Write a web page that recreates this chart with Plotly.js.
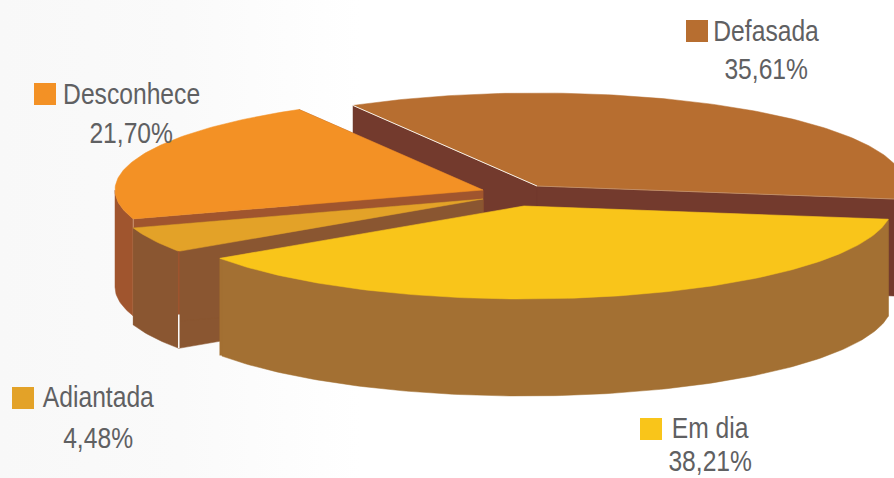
<!DOCTYPE html>
<html><head><meta charset="utf-8">
<script src="https://cdn.plot.ly/plotly-3.0.1.min.js"></script>
<style>html,body{margin:0;padding:0;background:#fff}#c{width:894px;height:478px;background:linear-gradient(90deg,#F8F8F8 0,#FAFAFA 180px,#FFFFFF 360px)}</style>
</head><body><div id="c"></div>
<script>
const categories = ["Em dia","Adiantada","Desconhece","Defasada"];
const shares = [38.21,4.48,21.70,35.61];
const shareLabels = ["38,21%","4,48%","21,70%","35,61%"];

const topColors = ["#F9C51A","#E3A228","#F39125","#B76E30"];
const wallColors = ["#A37033","#8A5631","#A0552E","#733A2D"];
const apexX = [524,483,483,537];
const apexY = [206,199,190,186];
const startAngle = 8.2, rx = 368, ry = 93, depth = 97;
const drawOrder = [3,2,1,0];

const swatchX = [640,12,34,686], swatchY = [418,387,83,20], swatchSize = 22;
const labelX = [710,98,131,766];
const nameY = [428,397,94,31];
const shareY = [461,438,133,69];
const textSqueeze = 0.85;

const total = shares.reduce((a,b)=>a+b,0);
let acc = startAngle;
const from = [], to = [];
shares.forEach(v=>{from.push(acc); acc += v/total*360; to.push(acc);});
const rad = d=>d*Math.PI/180;
const px = (i,a)=>apexX[i]+rx*Math.cos(rad(a));
const py = (i,a)=>apexY[i]+ry*Math.sin(rad(a));
const poly = (xs,ys,color)=>({type:'scatter',mode:'lines',x:[...xs,xs[0]],y:[...ys,ys[0]],fill:'toself',fillcolor:color,
  line:{color:color,width:0.5},hoverinfo:'skip',showlegend:false});
const edge = (xs,ys,color,w)=>({type:'scatter',mode:'lines',x:xs,y:ys,line:{color:color,width:w},hoverinfo:'skip',showlegend:false});

const traces = [];
drawOrder.forEach(i=>{
  const a0=from[i], a1=to[i];
  [a0,a1].forEach(a=>{
    traces.push(poly([apexX[i],px(i,a),px(i,a),apexX[i]],[apexY[i],py(i,a),py(i,a)+depth,apexY[i]+depth],wallColors[i]));
  });
  const ax=[],ay=[],bx=[],by=[];
  for(let a=a0;a<=a1;a+=1){
    const n=a%360;
    if(n<=180){ax.push(px(i,a));ay.push(py(i,a));bx.push(px(i,a));by.push(py(i,a)+depth);}
  }
  if(ax.length>1) traces.push(poly([...ax,...bx.reverse()],[...ay,...by.reverse()],wallColors[i]));
  const tx=[apexX[i]],ty=[apexY[i]];
  for(let a=a0;a<a1;a+=1){tx.push(px(i,a));ty.push(py(i,a));}
  tx.push(px(i,a1));ty.push(py(i,a1));
  traces.push(poly(tx,ty,topColors[i]));
  if(i===3){
    traces.push(edge([px(i,a0),apexX[i]],[py(i,a0),apexY[i]],'#F7F1EA',1));
    traces.push(edge([px(i,a1),apexX[i]],[py(i,a1),apexY[i]],'#C79A78',0.7));
  }
  if(i===2){
    traces.push(edge([px(i,a0),px(i,a0)],[py(i,a0),py(i,a0)+depth],'#D9A483',0.8));
  }
});
const ac = from[1];
traces.push(edge([px(1,ac),px(1,ac)],[py(1,ac),py(1,ac)+depth*0.65],'#A0552E',1.5));
traces.push(edge([px(1,ac),px(1,ac)],[py(1,ac)+depth*0.65,py(1,ac)+depth],'#ffffff',1.5));

const font = {family:'"Liberation Sans",sans-serif',size:29,color:'#5F6062'};
const annotations = [], shapes = [];
categories.forEach((c,i)=>{
  annotations.push({x:labelX[i],y:nameY[i],xref:'x',yref:'y',text:c,showarrow:false,xanchor:'center',yanchor:'middle',font});
  annotations.push({x:labelX[i],y:shareY[i],xref:'x',yref:'y',text:shareLabels[i],showarrow:false,xanchor:'center',yanchor:'middle',font});
  shapes.push({type:'rect',xref:'x',yref:'y',x0:swatchX[i],x1:swatchX[i]+swatchSize,y0:swatchY[i],y1:swatchY[i]+swatchSize,fillcolor:topColors[i],line:{width:0}});
});
const ax = {visible:false,fixedrange:true};
Plotly.newPlot('c',traces,{
  width:894,height:478,margin:{l:0,r:0,t:0,b:0},paper_bgcolor:'rgba(0,0,0,0)',plot_bgcolor:'rgba(0,0,0,0)',showlegend:false,
  xaxis:{...ax,range:[0,894]},yaxis:{...ax,range:[478,0]},annotations,shapes
},{displayModeBar:false,staticPlot:true}).then(gd=>{
  gd.querySelectorAll('.annotation-text').forEach(t=>{
    const w=t.getComputedTextLength();
    t.setAttribute('textLength',(w*textSqueeze).toFixed(1));
    t.setAttribute('lengthAdjust','spacingAndGlyphs');
  });
});
</script></body></html>
